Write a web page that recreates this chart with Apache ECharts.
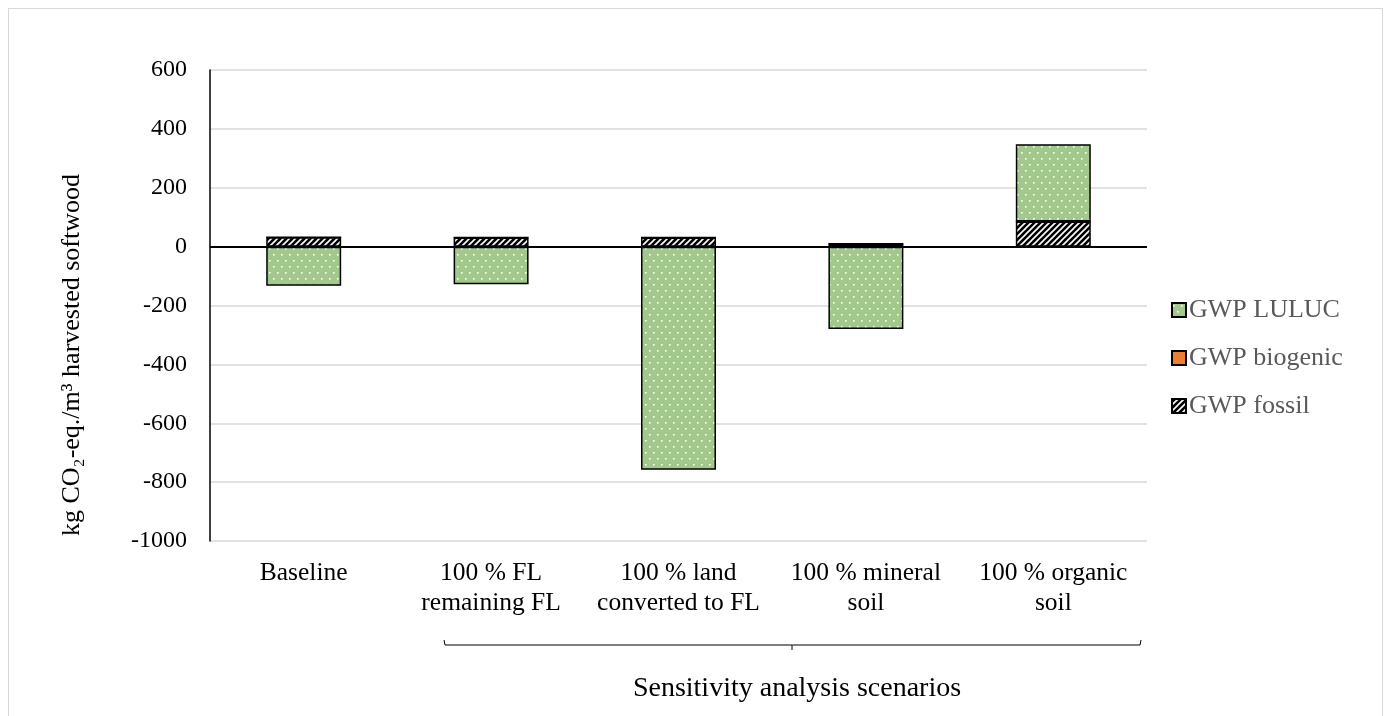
<!DOCTYPE html>
<html><head><meta charset="utf-8">
<script src="https://cdn.jsdelivr.net/npm/echarts@6/dist/echarts.min.js"></script>
<style>html,body{margin:0;padding:0;background:#fff;}#frame{position:absolute;left:8px;top:8px;width:1375px;height:720px;border:1.5px solid #d9d9d9;box-sizing:border-box;}#c{position:absolute;left:0;top:0;width:1389px;height:716px;}</style>
</head><body><div id="frame"></div><div id="c"></div>
<script>
const categories = ['Baseline', '100 % FL\nremaining FL', '100 % land\nconverted to FL', '100 % mineral\nsoil', '100 % organic\nsoil'];
const gwpFossil = [32, 31, 31, 10, 85];
const gwpBiogenic = [0, 0, 0, 0, 0];
const gwpLULUC = [-133, -128, -758, -280, 263];
const yTicks = [-1000, -800, -600, -400, -200, 0, 200, 400, 600];

function dotPattern(){
  const c = document.createElement('canvas'); c.width = 8; c.height = 12;
  const g = c.getContext('2d');
  g.fillStyle = '#a3c88b'; g.fillRect(0,0,8,12);
  g.fillStyle = '#ffffff';
  g.fillRect(1,2,1.6,1.6); g.fillRect(5,8,1.6,1.6);
  return c;
}
function stripePattern(){
  const c = document.createElement('canvas'); c.width = 6; c.height = 6;
  const g = c.getContext('2d');
  g.fillStyle = '#000'; g.fillRect(0,0,6,6);
  g.strokeStyle = '#fff'; g.lineWidth = 1.6;
  g.beginPath();
  g.moveTo(-1,7); g.lineTo(7,-1);
  g.moveTo(-4,4); g.lineTo(4,-4);
  g.moveTo(2,10); g.lineTo(10,2);
  g.stroke();
  return c;
}
const font = '"Liberation Serif", "Times New Roman", serif';
const chart = echarts.init(document.getElementById('c'));
const border = {borderColor:'#000', borderWidth:1.5};
chart.setOption({
  animation:false,
  textStyle:{fontFamily:font},
  grid:{left:210, right:242, top:70, bottom:175},
  legend:{
    orient:'vertical', left:1166, top:292, itemGap:22, itemWidth:14, itemHeight:14,
    icon:'rect',
    textStyle:{fontFamily:font, fontSize:26, color:'#595959', padding:[0,0,0,-2]},
    data:['GWP LULUC','GWP biogenic','GWP fossil']
  },
  xAxis:{
    type:'category', data:categories,
    axisLine:{show:false, onZero:false}, axisTick:{show:false},
    axisLabel:{fontFamily:font, fontSize:25.5, color:'#000', lineHeight:30, margin:17, interval:0}
  },
  yAxis:{
    type:'value', min:yTicks[0], max:yTicks[yTicks.length-1], interval:200,
    axisLine:{show:true, lineStyle:{color:'#000', width:1.5}}, axisTick:{show:false},
    axisLabel:{fontFamily:font, fontSize:24, color:'#000', margin:23, formatter:v=>String(v)},
    splitLine:{lineStyle:{color:'#d9d9d9', width:1.5}}
  },
  series:[
    {name:'GWP fossil', type:'bar', stack:'s', data:gwpFossil, barWidth:'40%',
     itemStyle:Object.assign({color:{image:stripePattern(), repeat:'repeat'}}, border)},
    {name:'GWP biogenic', type:'bar', stack:'s', data:gwpBiogenic,
     itemStyle:Object.assign({color:'#ed7d31'}, border)},
    {name:'GWP LULUC', type:'bar', stack:'s', data:gwpLULUC,
     itemStyle:Object.assign({color:{image:dotPattern(), repeat:'repeat'}}, border),
     markLine:{silent:true, symbol:'none', label:{show:false},
       lineStyle:{color:'#000', width:2, type:'solid'}, data:[{yAxis:0}]}}
  ],
  graphic:[
    {type:'polyline', shape:{points:[[444,640],[445,645],[1140,645],[1141,640]]}, style:{stroke:'#000', lineWidth:1, fill:null}},
    {type:'line', shape:{x1:792,y1:645,x2:792,y2:650}, style:{stroke:'#000', lineWidth:1}},
    {type:'text', x:797, y:689, style:{text:'Sensitivity analysis scenarios', font:'28px '+font, fill:'#000', align:'center', verticalAlign:'middle'}},
    {type:'text', x:72, y:355, rotation:Math.PI/2, style:{text:'kg CO\u2082-eq./m\u00b3 harvested softwood', font:'26px '+font, fill:'#000', align:'center', verticalAlign:'middle'}}
  ]
});
</script></body></html>
